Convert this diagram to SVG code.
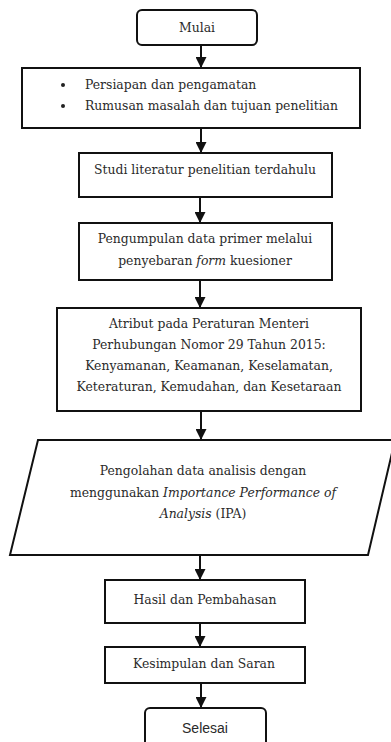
<svg xmlns="http://www.w3.org/2000/svg" width="391" height="742" viewBox="0 0 391 742">
<style>
.box{fill:#fff;stroke:#111;stroke-width:2}
.t{font-family:"DejaVu Serif","Liberation Serif",serif;font-size:12.4px;fill:#2a2a2a;text-anchor:middle}
.tl{font-family:"DejaVu Serif","Liberation Serif",serif;font-size:12.4px;fill:#2a2a2a}
.s{font-family:"Liberation Sans",sans-serif;font-size:14px;fill:#2a2a2a;text-anchor:middle}
.c{stroke:#111;stroke-width:2;fill:none;marker-end:url(#ah)}
</style>
<defs>
<marker id="ah" viewBox="0 0 10 10" refX="10" refY="5" markerWidth="5.5" markerHeight="5.5" orient="auto" markerUnits="strokeWidth">
<path d="M0,0 L10,5 L0,10 z" fill="#111"/>
</marker>
</defs>
<rect width="391" height="742" fill="#fff"/>
<g id="connectors">
<line class="c" x1="201" y1="45" x2="201" y2="68"/>
<line class="c" x1="201" y1="128" x2="201" y2="153"/>
<line class="c" x1="200" y1="197" x2="200" y2="223"/>
<line class="c" x1="200" y1="280" x2="200" y2="308"/>
<line class="c" x1="201" y1="411" x2="201" y2="440"/>
<line class="c" x1="200" y1="555" x2="200" y2="580"/>
<line class="c" x1="200" y1="623" x2="200" y2="647"/>
<line class="c" x1="201" y1="683" x2="201" y2="708"/>
</g>
<g id="mulai">
<rect class="box" x="137" y="10" width="120" height="35" rx="5"/>
<text class="t" x="197" y="32">Mulai</text>
</g>
<g id="persiapan">
<rect class="box" x="22" y="68" width="338" height="60"/>
<circle cx="63" cy="85" r="2" fill="#222"/>
<circle cx="63" cy="106" r="2" fill="#222"/>
<text class="tl" x="85" y="89">Persiapan dan pengamatan</text>
<text class="tl" x="85" y="110">Rumusan masalah dan tujuan penelitian</text>
</g>
<g id="studi">
<rect class="box" x="79" y="153" width="253" height="44"/>
<text class="t" x="205" y="174">Studi literatur penelitian terdahulu</text>
</g>
<g id="pengumpulan">
<rect class="box" x="79" y="223" width="253" height="57"/>
<text class="t" x="205" y="243">Pengumpulan data primer melalui</text>
<text class="t" x="205" y="265">penyebaran <tspan font-style="italic">form</tspan> kuesioner</text>
</g>
<g id="atribut">
<rect class="box" x="57" y="308" width="304" height="103"/>
<text class="t" x="209" y="328">Atribut pada Peraturan Menteri</text>
<text class="t" x="209" y="349">Perhubungan Nomor 29 Tahun 2015:</text>
<text class="t" x="209" y="370">Kenyamanan, Keamanan, Keselamatan,</text>
<text class="t" x="209" y="391">Keteraturan, Kemudahan, dan Kesetaraan</text>
</g>
<g id="pengolahan">
<polygon class="box" points="38,440 395,440 368,555 10,555"/>
<text class="t" x="203" y="475">Pengolahan data analisis dengan</text>
<text class="t" x="203" y="497">menggunakan <tspan font-style="italic">Importance Performance of</tspan></text>
<text class="t" x="203" y="518"><tspan font-style="italic">Analysis</tspan> (IPA)</text>
</g>
<g id="hasil">
<rect class="box" x="105" y="580" width="200" height="43"/>
<text class="t" x="205" y="604">Hasil dan Pembahasan</text>
</g>
<g id="kesimpulan">
<rect class="box" x="105" y="647" width="200" height="36"/>
<text class="t" x="204" y="668">Kesimpulan dan Saran</text>
</g>
<g id="selesai">
<rect class="box" x="145" y="708" width="121" height="40" rx="5"/>
<text class="s" x="205" y="733">Selesai</text>
</g>
</svg>
